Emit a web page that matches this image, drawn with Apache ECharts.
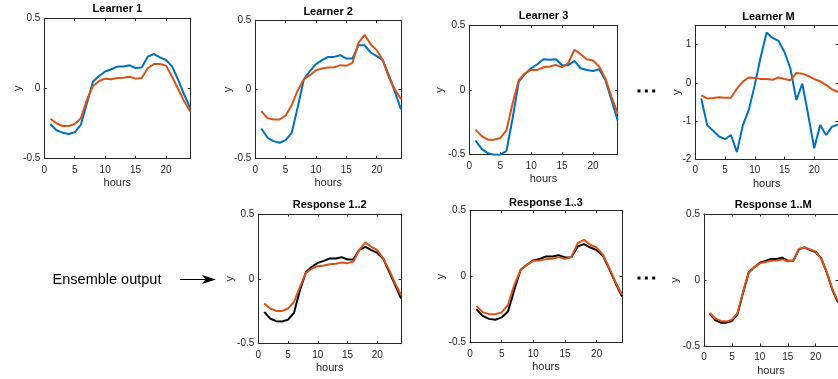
<!DOCTYPE html>
<html>
<head>
<meta charset="utf-8">
<script src="https://cdn.jsdelivr.net/npm/echarts@6/dist/echarts.min.js"></script>
<style>html,body{margin:0;padding:0;background:#fff;}#c{width:838px;height:379px;}</style>
</head>
<body>
<div id="c"></div>
<script>
// ---------- data ----------
var hours = [1,2,3,4,5,6,7,8,9,10,11,12,13,14,15,16,17,18,19,20,21,22,23,24];
var xTicks = [0,5,10,15,20];
var l1Blue   = [-0.255,-0.30,-0.317,-0.326,-0.314,-0.26,-0.107,0.048,0.088,0.12,0.136,0.155,0.155,0.164,0.145,0.148,0.226,0.245,0.221,0.202,0.155,0.06,-0.048,-0.143];
var l1Orange = [-0.217,-0.25,-0.269,-0.269,-0.255,-0.214,-0.083,0.017,0.052,0.069,0.064,0.074,0.076,0.083,0.069,0.074,0.143,0.174,0.174,0.162,0.083,-0.007,-0.095,-0.167];
var l2Blue   = [-0.283,-0.349,-0.375,-0.387,-0.368,-0.315,-0.126,0.075,0.133,0.184,0.213,0.237,0.237,0.249,0.225,0.225,0.322,0.322,0.269,0.242,0.213,0.104,-0.017,-0.145];
var l2Orange = [-0.157,-0.208,-0.218,-0.218,-0.189,-0.114,-0.005,0.075,0.104,0.14,0.153,0.16,0.162,0.177,0.172,0.194,0.339,0.397,0.329,0.286,0.213,0.087,0.0,-0.07];
var l3Blue   = [-0.39,-0.455,-0.488,-0.5,-0.5,-0.473,-0.22,0.065,0.125,0.169,0.2,0.239,0.234,0.239,0.192,0.192,0.226,0.169,0.156,0.148,0.161,0.078,-0.078,-0.234];
var l3Orange = [-0.306,-0.356,-0.384,-0.384,-0.371,-0.312,-0.104,0.078,0.13,0.156,0.156,0.177,0.182,0.195,0.177,0.208,0.312,0.278,0.239,0.229,0.182,0.091,-0.052,-0.182];
var lMBlue   = [-0.41,-1.11,-1.26,-1.41,-1.48,-1.37,-1.82,-1.11,-0.71,-0.06,0.68,1.32,1.18,1.10,0.81,0.37,-0.45,-0.02,-0.85,-1.72,-1.11,-1.37,-1.15,-1.1];
var lMOrange = [-0.33,-0.41,-0.40,-0.38,-0.39,-0.39,-0.15,0.03,0.14,0.13,0.10,0.10,0.08,0.14,0.10,0.07,0.26,0.24,0.18,0.10,0.04,-0.06,-0.17,-0.24];
var r2Black  = [-0.254,-0.306,-0.326,-0.329,-0.314,-0.262,-0.087,0.051,0.093,0.123,0.139,0.157,0.157,0.167,0.149,0.149,0.226,0.247,0.221,0.2,0.157,0.054,-0.049,-0.152];
var r2Orange = [-0.19,-0.229,-0.247,-0.247,-0.229,-0.177,-0.062,0.046,0.08,0.098,0.103,0.113,0.116,0.126,0.121,0.134,0.226,0.28,0.247,0.221,0.157,0.067,-0.036,-0.126];
var r3Black  = [-0.248,-0.299,-0.322,-0.329,-0.311,-0.266,-0.101,0.051,0.089,0.122,0.134,0.152,0.152,0.162,0.144,0.147,0.228,0.246,0.22,0.2,0.157,0.056,-0.051,-0.152];
var r3Orange = [-0.223,-0.271,-0.286,-0.286,-0.273,-0.215,-0.063,0.051,0.089,0.119,0.122,0.132,0.134,0.147,0.134,0.147,0.253,0.278,0.241,0.22,0.165,0.063,-0.046,-0.139];
var rMBlack  = [-0.253,-0.303,-0.323,-0.323,-0.31,-0.258,-0.096,0.056,0.096,0.131,0.144,0.159,0.159,0.169,0.146,0.146,0.232,0.247,0.227,0.212,0.164,0.056,-0.076,-0.17];
var rMOrange = [-0.25,-0.29,-0.31,-0.315,-0.30,-0.25,-0.09,0.056,0.096,0.126,0.136,0.146,0.148,0.156,0.142,0.146,0.235,0.247,0.232,0.215,0.16,0.06,-0.07,-0.16];

var titles = ['Learner 1','Learner 2','Learner 3','Learner M','Response 1..2','Response 1..3','Response 1..M'];
var seriesSets = [
  [[l1Blue,'#0072BD'],[l1Orange,'#D95319']],
  [[l2Blue,'#0072BD'],[l2Orange,'#D95319']],
  [[l3Blue,'#0072BD'],[l3Orange,'#D95319']],
  [[lMBlue,'#0072BD'],[lMOrange,'#D95319']],
  [[r2Black,'#000000'],[r2Orange,'#D95319']],
  [[r3Black,'#000000'],[r3Orange,'#D95319']],
  [[rMBlack,'#000000'],[rMOrange,'#D95319']]
];
var yRanges = [[-0.5,0.5,0.5],[-0.5,0.5,0.5],[-0.5,0.5,0.5],[-2,1.5,1],[-0.5,0.5,0.5],[-0.5,0.5,0.5],[-0.5,0.5,0.5]];

// ---------- layout ----------
var layout = [
  {l:44.3, t:18.3, w:146.1, h:140,   ty:9.3,   yGap:20.5},
  {l:255.3,t:20.7, w:145.7, h:137.6, ty:12.3,  yGap:21.5},
  {l:469.3,t:25.5, w:148.4, h:129.2, ty:15.7,  yGap:24},
  {l:695.3,t:25.7, w:146.4, h:133.3, ty:16.7,  yGap:13},
  {l:258.3,t:214,  w:142.8, h:129.7, ty:205,   yGap:22.5},
  {l:470,  t:210.7,w:152,   h:131.6, ty:203.3, yGap:23.5},
  {l:704,  t:214,  w:138.4, h:132,   ty:205,   yGap:23.5}
];

var FONT = "'Liberation Sans', Arial, Helvetica, sans-serif";
var AX = '#262626';
var grid = [], xAxis = [], yAxis = [], series = [], graphic = [];

layout.forEach(function (g, i) {
  grid.push({left:g.l, top:g.t, width:g.w, height:g.h, containLabel:false});
  var yr = yRanges[i];
  var tickStyle = {show:true, inside:true, length:2.5, lineStyle:{color:AX, width:1}};
  xAxis.push({
    type:'value', gridIndex:i, min:0, max:24, interval:5, position:'bottom',
    name:'hours', nameLocation:'middle', nameGap:19, nameMoveOverlap:false,
    nameTextStyle:{fontFamily:FONT, fontSize:11, color:AX},
    axisLine:{show:true, onZero:false, lineStyle:{color:AX, width:1}},
    axisTick:tickStyle,
    axisLabel:{show:true, margin:6.5, fontFamily:FONT, fontSize:10, color:AX, showMaxLabel:false, showMinLabel:true},
    splitLine:{show:false}
  });
  xAxis.push({
    type:'value', gridIndex:i, min:0, max:24, interval:5, position:'top',
    axisLine:{show:true, onZero:false, lineStyle:{color:AX, width:1}},
    axisTick:tickStyle, axisLabel:{show:false}, splitLine:{show:false}
  });
  yAxis.push({
    type:'value', gridIndex:i, min:yr[0], max:yr[1], interval:yr[2], position:'left',
    name:'y', nameLocation:'middle', nameGap:g.yGap, nameRotate:90, nameMoveOverlap:false,
    nameTextStyle:{fontFamily:FONT, fontSize:11, color:AX},
    axisLine:{show:true, onZero:false, lineStyle:{color:AX, width:1}},
    axisTick:tickStyle,
    axisLabel:{show:true, margin:4, fontFamily:FONT, fontSize:10, color:AX, showMaxLabel: (yr[1] % yr[2] === 0)},
    splitLine:{show:false}
  });
  yAxis.push({
    type:'value', gridIndex:i, min:yr[0], max:yr[1], interval:yr[2], position:'right',
    axisLine:{show:true, onZero:false, lineStyle:{color:AX, width:1}},
    axisTick:tickStyle, axisLabel:{show:false}, splitLine:{show:false}
  });
  seriesSets[i].forEach(function (s) {
    series.push({
      type:'line', xAxisIndex:2*i, yAxisIndex:2*i,
      data: hours.map(function (h, k) { return [h, s[0][k]]; }),
      showSymbol:false, symbol:'none', smooth:false,
      lineStyle:{color:s[1], width:2}, itemStyle:{color:s[1]},
      clip:true
    });
  });
  graphic.push({
    type:'text', x:g.l + g.w/2, y:g.ty, silent:true,
    style:{text:titles[i], x:0, y:0, align:'center', verticalAlign:'middle', textAlign:'center', textVerticalAlign:'middle',
      fontFamily:FONT, fontSize:11, fontWeight:'bold', fill:'#000'}
  });
});

// annotations
graphic.push({
  type:'text', x:107, y:279.5, silent:true,
  style:{text:'Ensemble output', align:'center', verticalAlign:'middle', textAlign:'center', textVerticalAlign:'middle',
    fontFamily:FONT, fontSize:14.5, fill:'#000'}
});
graphic.push({type:'line', silent:true, shape:{x1:180, y1:279.5, x2:207, y2:279.5}, style:{stroke:'#000', lineWidth:1}});
graphic.push({type:'polygon', silent:true, shape:{points:[[216,279.5],[202,275],[205.5,279.5],[202,284]]}, style:{fill:'#000'}});
[[639,91],[646.3,91],[653.7,91],[639,278],[646.3,278],[653.7,278]].forEach(function (p) {
  graphic.push({type:'rect', silent:true, shape:{x:p[0]-1.5, y:p[1]-1.5, width:3, height:3}, style:{fill:'#000'}});
});

var chart = echarts.init(document.getElementById('c'), null, {renderer:'canvas'});
chart.setOption({
  animation:false,
  backgroundColor:'#fff',
  grid:grid, xAxis:xAxis, yAxis:yAxis, series:series, graphic:graphic
});
</script>
</body>
</html>
